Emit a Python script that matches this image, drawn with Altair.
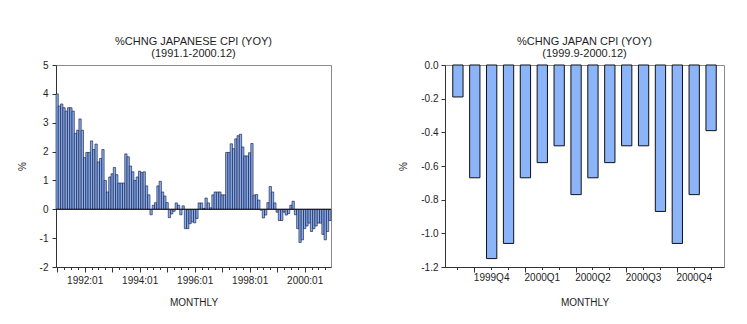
import altair as alt
import pandas as pd

# ---------------- data ----------------
# Left panel: monthly %chg Japanese CPI (YoY), 1991.01 - 2000.12 (120 months)
cpi_1991_1993 = [4.0, 3.58, 3.65, 3.52, 3.40, 3.52, 3.52, 3.40, 2.63, 2.74, 3.13, 2.74,
                 1.79, 1.97, 1.97, 2.37, 2.07, 2.26, 1.64, 1.76, 2.07, 1.0, 0.6, 1.12,
                 1.23, 1.45, 1.2, 0.91, 0.91, 0.91, 1.92, 1.82, 1.5, 1.3, 1.0, 1.12]
cpi_1994_1996 = [1.32, 1.27, 1.3, 0.81, 0.5, -0.19, 0.14, 0.23, 0.81, 0.97, 0.6, 0.46,
                 0.23, -0.29, -0.16, -0.07, 0.22, 0.14, -0.19, 0.12, -0.67, -0.67, -0.5, -0.44,
                 -0.47, -0.32, 0.22, 0.22, 0.03, 0.39, 0.22, 0.05, 0.5, 0.6, 0.6, 0.6]
cpi_1997_1999 = [0.5, 0.5, 1.97, 1.97, 2.27, 2.1, 2.44, 2.55, 2.6, 2.16, 1.85, 1.85,
                 1.96, 2.28, 0.49, 0.51, 0.32, -0.03, -0.3, -0.2, 0.23, 0.79, 0.6, 0.22,
                 -0.1, -0.39, -0.39, -0.1, -0.2, -0.15, 0.14, 0.28]
# Right panel: 1999.09 - 2000.12
recent_months = ["1999.09", "1999.10", "1999.11", "1999.12",
                 "2000.01", "2000.02", "2000.03", "2000.04", "2000.05", "2000.06",
                 "2000.07", "2000.08", "2000.09", "2000.10", "2000.11", "2000.12"]
recent_values = [-0.19, -0.67, -1.15, -1.06, -0.67, -0.58, -0.48, -0.77, -0.67, -0.58,
                 -0.48, -0.48, -0.87, -1.06, -0.77, -0.39]

cpi_monthly = cpi_1991_1993 + cpi_1994_1996 + cpi_1997_1999 + recent_values
start_year = 1991

left_tick_labels = ["1992:01", "1994:01", "1996:01", "1998:01", "2000:01"]
left_y_ticks = [-2, -1, 0, 1, 2, 3, 4, 5]

quarter_labels = ["1999Q4", "2000Q1", "2000Q2", "2000Q3", "2000Q4"]
quarter_label_months = ["1999.11", "2000.02", "2000.05", "2000.08", "2000.11"]
quarter_start_months = ["1999.10", "2000.01", "2000.04", "2000.07", "2000.10"]
right_y_ticks = [0.0, -0.2, -0.4, -0.6, -0.8, -1.0, -1.2]

# ---------------- tables ----------------
n = len(cpi_monthly)
df_left = pd.DataFrame({
    "x0": list(range(n)),
    "x1": [i + 1 for i in range(n)],
    "value": cpi_monthly,
    "base": [0.0] * n,
})
df_zero = pd.DataFrame({"value": [0.0]})
df_right = pd.DataFrame({"month": recent_months, "value": recent_values})

FONT = "Liberation Sans"
TXT = "#1e1e1e"

# left axis label expression
left_tick_pos = [(int(l[:4]) - start_year) * 12 + 0.5 for l in left_tick_labels]
left_label_expr = "".join(
    f"datum.value == {p} ? '{l}' : " for p, l in zip(left_tick_pos, left_tick_labels)
) + "''"
left_tick_values = [i + 0.5 for i in range(0, n, 3)]

left_y = alt.Y("value:Q",
               scale=alt.Scale(domain=[-2, 5], nice=False),
               axis=alt.Axis(values=left_y_ticks, title="%", grid=False, labelOverlap=False,
                             labelExpr="datum.value < 0 ? '-' + abs(datum.value) : '' + datum.value",
                             tickSize=4, labelPadding=4, titlePadding=12))

bars_left = alt.Chart(df_left).mark_rect(
    fill="#86aef2", stroke="#101030", strokeWidth=0.6
).encode(
    x=alt.X("x0:Q",
            scale=alt.Scale(domain=[0, n], nice=False, zero=False),
            axis=alt.Axis(values=left_tick_values, labelExpr=left_label_expr,
                          tickSize={"condition": {"test": "(datum.value - 0.5) % 12 == 0", "value": 5},
                                    "value": 2.5},
                          title="MONTHLY", grid=False, labelPadding=3,
                          titlePadding=12, labelFlush=False, labelOverlap=False)),
    x2="x1:Q",
    y=left_y,
    y2="base:Q",
)
zero_left = alt.Chart(df_zero).mark_rule(color="#111", strokeWidth=1).encode(y=left_y)

left = alt.layer(bars_left, zero_left).properties(
    width=275, height=202,
    title=alt.Title("%CHNG JAPANESE CPI (YOY)", subtitle="(1991.1-2000.12)", frame="group"),
)

# right panel
right_label_expr = "".join(
    f"datum.value == '{m}' ? '{l}' : " for m, l in zip(quarter_label_months, quarter_labels)
) + "''"
qs = "[" + ",".join(f"'{m}'" for m in quarter_start_months) + "]"

right = alt.Chart(df_right).mark_bar(
    fill="#8cb4f8", stroke="#111111", strokeWidth=1
).encode(
    x=alt.X("month:O", sort=recent_months,
            scale=alt.Scale(paddingInner=0.39, paddingOuter=0.46),
            axis=alt.Axis(labelExpr=right_label_expr, labelAngle=0, title="MONTHLY",
                          tickSize={"condition": {"test": f"indexof({qs}, datum.value) >= 0", "value": 5},
                                    "value": 2.5},
                          grid=False, labelPadding=3, titlePadding=12, labelOverlap=False)),
    y=alt.Y("value:Q",
            scale=alt.Scale(domain=[-1.2, 0], nice=False),
            axis=alt.Axis(values=right_y_ticks, title="%", grid=False, labelOverlap=False,
                          labelExpr="datum.value == 0 ? '0.0' : '-' + format(abs(datum.value), '.1f')",
                          tickSize=4, labelPadding=3, titlePadding=12)),
).properties(
    width=279, height=202,
    title=alt.Title("%CHNG JAPAN CPI (YOY)", subtitle="(1999.9-2000.12)", frame="group"),
)

chart = alt.hconcat(left, right, spacing=66).properties(
    padding={"left": 16, "top": 35, "right": 0, "bottom": 0},
    background="white",
).configure_view(
    stroke="#8a8a8a", strokeWidth=1
).configure_axis(
    labelFont=FONT, titleFont=FONT, labelFontSize=10, titleFontSize=10,
    labelColor=TXT, titleColor=TXT, titleFontWeight="normal",
    domainColor="#333333", tickColor="#333333",
).configure_title(
    font=FONT, fontSize=11, fontWeight="normal", color=TXT,
    subtitleFont=FONT, subtitleFontSize=11, subtitleColor=TXT,
    subtitlePadding=1, offset=1, anchor="middle",
)

chart.save("out.html", embed_options={"renderer": "svg", "actions": False})
